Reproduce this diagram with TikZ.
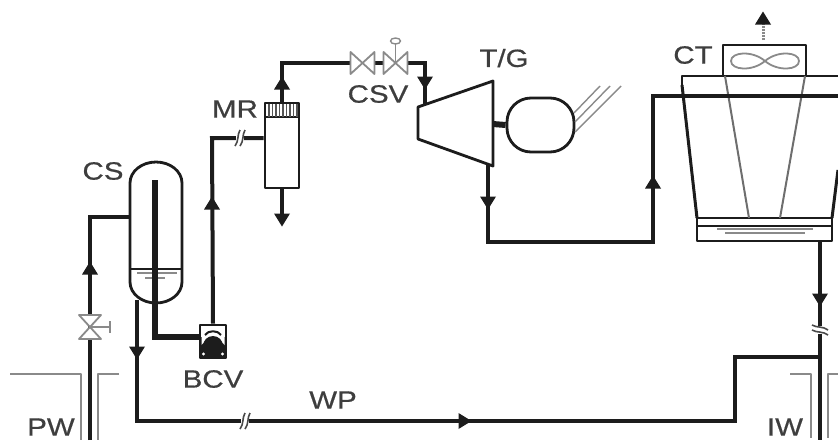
\documentclass[tikz,border=0pt]{standalone}
\usepackage{fontspec}
\setmainfont{Liberation Sans}[FakeStretch=1.18, FakeBold=0.6]
\definecolor{ink}{HTML}{1C1C1C}
\definecolor{pale}{HTML}{8A8A8A}
\tikzset{
  pipe/.style={draw=ink, line width=4pt, line cap=butt, line join=miter},
  wall/.style={draw=ink, line width=2.8pt},
  well/.style={draw=pale, line width=1.8pt},
  tag/.style={font=\fontsize{25}{25}\selectfont, text=ink!85, inner sep=0pt},
  equip/.style={draw=ink, line width=2.8pt, fill=white, inner sep=0pt},
  tip/.pic={\fill[ink] (-8,-6.5) -- (8,-6.5) -- (0,6.5) -- cycle;},
  valve/.pic={\draw[pale, line width=1.8pt, fill=white, line join=round] (-12,-11) -- (0,0) -- (-12,11) -- cycle (12,-11) -- (0,0) -- (12,11) -- cycle;},
  gap/.pic={\fill[white] (-4,-8) rectangle (4,8);
    \draw[ink!80, line width=1.6pt] (-5,8) .. controls (-1,3) and (-3,-3) .. (0,-8)
      (0,8) .. controls (4,3) and (2,-3) .. (5,-8);}
}
\begin{document}
\begin{tikzpicture}[x=1pt, y=-1pt, line join=round]
\useasboundingbox (0,0) rectangle (838,440);
% wells
\draw[well] (10,374) -- (81,374) -- (81,440);
\draw[well] (119,374) -- (98,374) -- (98,440);
\draw[well] (790,374) -- (811,374) -- (811,438);
\draw[well] (838,374) -- (828,374) -- (828,438);
% separator
\coordinate (csin) at (130,217);
\coordinate (cslow) at (137,300);
\draw[wall, fill=white] (130,183) arc[start angle=180, end angle=360, x radius=26, y radius=21] -- (182,282) arc[start angle=0, end angle=180, x radius=26, y radius=21] -- cycle;
\draw[wall] (130,269) -- (182,269);
\draw[pale, line width=1.6pt] (137,273) -- (177,273);
\draw[pale, line width=1.6pt] (145,278) -- (165,278);
% equipment
\node[equip, minimum width=26pt, minimum height=33pt] (bcv) at (213,341.5) {};
\fill[ink] (200,337) rectangle (226,358);
\fill[white] (201.5,337) -- (201.5,345) .. controls (203,340) and (223,340) .. (224.5,345) -- (224.5,337) -- cycle;
\fill[ink] (213,346) circle (10);
\draw[ink, line width=2pt] (205,335) .. controls (208,330) and (218,330) .. (221,335);
\fill[white] (203.5,354) circle (1.6) (222.5,354) circle (1.6);
\node[equip, minimum width=34pt, minimum height=85pt] (mr) at (282,145.5) {};
\draw[ink, line width=1.6pt] (265,117) -- (299,117);
\foreach \xh in {269,272.5,...,297} \draw[ink!75, line width=1.6pt] (\xh,104) -- (\xh,117);
\node[equip, minimum width=83pt, minimum height=31pt] (fan) at (764.5,60.5) {};
\node[equip, rounded corners=24pt, minimum width=67pt, minimum height=54pt] (gen) at (540.5,125) {};
\draw[wall, fill=white] (418,107) coordinate (tbin) -- (493,81) -- (493,166) -- (418,139) -- cycle;
\coordinate (shaft) at (493,124);
\coordinate (tbout) at (488,164);
% cooling tower
\coordinate (ctin) at (653,96);
\draw[wall] (682,85) -- (682,76) -- (838,76);
\draw[wall, line width=3pt] (682,85) -- (697,218);
\draw[wall, line width=3pt] (832,218) -- (838,170);
\draw[wall] (697,218) rectangle (832,241);
\draw[ink, line width=1.8pt] (697,226) -- (832,226);
\draw[pale, line width=2pt] (717,229) -- (813,229) (725,233) -- (805,233);
\draw[pale!80!black, line width=2pt] (725,76) -- (749,218);
\draw[pale!80!black, line width=2pt] (805,76) -- (780,218);
\draw[pale, line width=1.8pt] (765,61) .. controls (752,50) and (731,52) .. (731,61) .. controls (731,70) and (752,72) .. (765,61) .. controls (778,50) and (799,52) .. (799,61) .. controls (799,70) and (778,72) .. (765,61);
\draw[pale, line width=3pt, dash pattern=on 2pt off 1pt] (763,40) -- (763,22);
\pic[rotate=180] at (763,18) {tip};
% generator
\draw[ink, line width=6pt] (shaft) -- (gen.west);
\draw[pale, line width=1.4pt] (574,113) -- (600,86) (575,122) -- (610,86) (575,132) -- (621,86);
% pipes
\draw[pipe, line width=5.4pt] (155,180) -- (155,337) -- (bcv.west |- 0,337);
\draw[pipe] (bcv.north) -- (212,138) -- (mr.west |- 0,138);
\draw[pipe] (mr.north) -- (282,63) -- (350,63);
\draw[pipe] (375,63) -- (383,63);
\draw[pipe] (408,63) -- (425,63) -- (425,104);
\draw[pipe] (mr.south) -- (282,222);
\draw[pipe] (tbout) -- (488,242) -- (653,242) -- (ctin) -- (838,96);
\draw[pipe] (90,440) -- (90,217) -- (csin);
\draw[pipe] (820,241) -- (820,440);
\draw[pipe] (820,357) -- (735,357) -- (735,421) -- (137,421) -- (cslow);
% flow marks
\pic[rotate=180] at (90,268) {tip};
\pic at (137,353) {tip};
\pic[rotate=180] at (212,203) {tip};
\pic[rotate=180] at (282,83) {tip};
\pic at (282,220) {tip};
\pic at (425,83) {tip};
\pic at (488,203) {tip};
\pic[rotate=180] at (653,182) {tip};
\pic at (820,300) {tip};
\pic[rotate=90] at (465,421) {tip};
\pic at (240,138) {gap};
\pic at (245,421) {gap};
\pic[rotate=90] at (820,330) {gap};
% valves
\pic at (362.5,63) {valve};
\pic at (395.5,63) {valve};
\draw[pale, line width=1.6pt] (395.5,63) -- (395.5,44);
\draw[pale, line width=1.4pt, fill=white] (395.5,41) ellipse (5 and 3);
\pic[rotate=90] at (90,327) {valve};
\draw[pale, line width=1.8pt] (90,327) -- (110,327) (110,321) -- (110,333);
% labels
\node[tag] (cs) at (103,171) {CS};
\node[tag] (mrl) at (235,109) {MR};
\node[tag] (csv) at (378,94) {CSV};
\node[tag] (tg) at (504,58) {T/G};
\node[tag] (ct) at (693,55) {CT};
\node[tag] (bcvl) at (213,379) {BCV};
\node[tag] (wp) at (333,400) {WP};
\node[tag] (pw) at (51,427) {PW};
\node[tag] (iw) at (785,427) {IW};
\end{tikzpicture}
\end{document}
